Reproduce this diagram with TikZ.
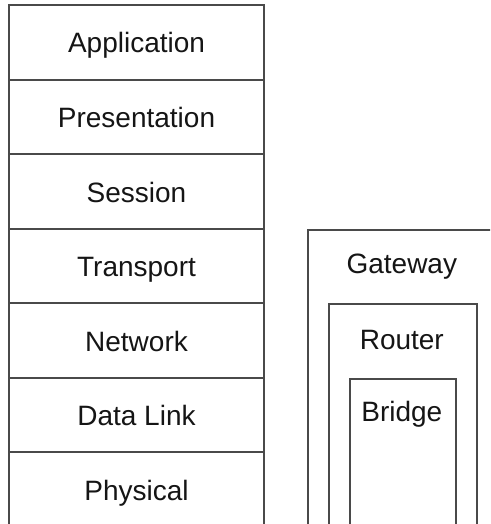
\documentclass[tikz,border=0pt]{standalone}
\usepackage{fontspec}
\setmainfont{Liberation Sans}
\definecolor{edge}{HTML}{4A4A4A}
\definecolor{ink}{HTML}{151515}
\begin{document}
\begin{tikzpicture}[x=1pt,y=-1pt,
  layer/.style={draw=edge, line width=1.8pt, minimum width=255pt, inner sep=0pt},
  frame/.style={draw=edge, line width=1.8pt, inner sep=0pt, anchor=north west},
  caption/.style={text=ink, font=\fontsize{28}{32}\selectfont, inner sep=0pt, anchor=base}]
\useasboundingbox (0,0) rectangle (490,524);
\clip (0,0) rectangle (490,524);
% OSI stack, one row per layer
\node[layer, minimum height=75pt] (app)   at (136.5, 42.5)  {};
\node[layer, minimum height=74pt] (pres)  at (136.5, 117)   {};
\node[layer, minimum height=75pt] (sess)  at (136.5, 191.5) {};
\node[layer, minimum height=74pt] (trans) at (136.5, 266)   {};
\node[layer, minimum height=75pt] (net)   at (136.5, 340.5) {};
\node[layer, minimum height=74pt] (dl)    at (136.5, 415)   {};
\node[layer, minimum height=75pt] (phys)  at (136.5, 489.5) {};
\node[caption] at ([yshift=-10.5pt]app.center)   {Application};
\node[caption] at ([yshift=-10.5pt]pres.center)  {Presentation};
\node[caption] at ([yshift=-10.5pt]sess.center)  {Session};
\node[caption] at ([yshift=-10.5pt]trans.center) {Transport};
\node[caption] at ([yshift=-10.5pt]net.center)   {Network};
\node[caption] at ([yshift=-10.5pt]dl.center)    {Data Link};
\node[caption] at ([yshift=-10.5pt]phys.center)  {Physical};
% nested devices, each starting at the layer it reaches
\node[frame, minimum width=220pt, minimum height=340pt] (gwbox) at (307, 229) {};
\node[frame, minimum width=148pt, minimum height=260pt] (rtbox) at (328, 303) {};
\node[frame, minimum width=106pt, minimum height=200pt] (brbox) at (349, 378) {};
\node[caption] (gw) at (401.8, 273.5) {Gateway};
\node[caption] (rt) at (401.8, 349) {Router};
\node[caption] (br) at (401.8, 421) {Bridge};
\end{tikzpicture}
\end{document}
